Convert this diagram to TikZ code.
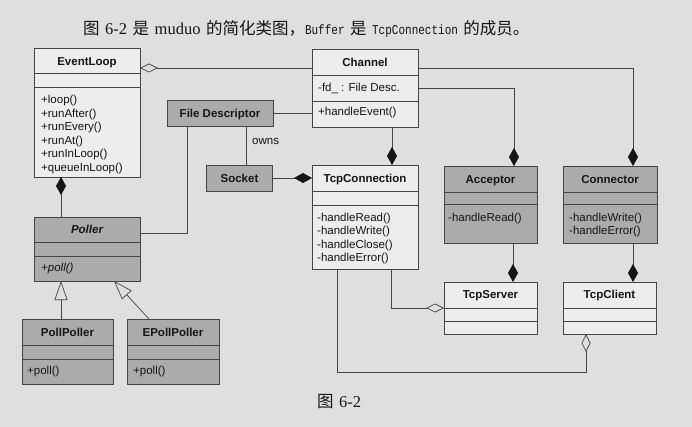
\documentclass[tikz,border=0pt]{standalone}
\usepackage{fontspec}
\setmainfont{Liberation Serif}
\setsansfont{Liberation Sans}
\setmonofont{Liberation Mono}
\newfontfamily\cjk{Noto Sans CJK SC}
\newfontfamily\codefont[FakeStretch=0.815]{Liberation Mono}
\newcommand\gap{\hspace{5.5pt}}
\usetikzlibrary{arrows.meta}
\definecolor{bg}{HTML}{DFDFDF}
\definecolor{boxw}{HTML}{EDEDED}
\definecolor{boxg}{HTML}{ABABAB}
\definecolor{ln}{HTML}{454545}
\definecolor{dk}{HTML}{151515}
\definecolor{txt}{HTML}{151515}
\tikzset{
  umlbox/.style={draw=ln, line width=0.7pt, inner sep=0pt, outer sep=0pt, anchor=north west},
  wbox/.style={fill=boxw},
  gbox/.style={fill=boxg},
  ttl/.style={font=\sffamily\bfseries\fontsize{11.5}{13.6}\selectfont, text=txt, inner sep=0pt, anchor=base},
  mth/.style={font=\sffamily\fontsize{11.5}{13.6}\selectfont, text=txt, inner sep=0pt, anchor=base west},
  conn/.style={draw=ln, line width=0.7pt},
  comp/.style={conn, -{Diamond[length=18pt,width=10pt,fill=dk,color=dk]}},
  aggr/.style={conn, -{Diamond[open,length=18pt,width=9pt]}},
  gen/.style={conn, -{Triangle[open,length=19pt,width=13pt]}},
  captext/.style={anchor=base west, inner sep=0pt, font=\fontsize{16.5}{18}\selectfont, text=txt},
}
\newcommand\cls[6]{%
  \pgfmathsetmacro\clsw{#5-#3}\pgfmathsetmacro\clsh{#6-#4}%
  \node[umlbox, #2, minimum width=\clsw pt, minimum height=\clsh pt] (#1) at (#3,#4) {};}
\newcommand\divs[3]{%
  \draw[conn] (#1.west |- 0,#2) -- (#1.east |- 0,#2);
  \draw[conn] (#1.west |- 0,#3) -- (#1.east |- 0,#3);}
\newcommand\code[1]{{\codefont\fontsize{13.5}{16}\selectfont #1}}
\begin{document}
\begin{tikzpicture}[x=1pt,y=-1pt]
\fill[bg] (0,0) rectangle (692,427);
\useasboundingbox (0,0) rectangle (692,427);

% captions
\node[captext] (cap) at (83,35)
  {{\cjk 图}\gap 6-2\gap{\cjk 是}\gap muduo\gap{\cjk 的简化类图，}\code{Buffer}\gap{\cjk 是}\gap\code{TcpConnection}\gap{\cjk 的成员。}};
\node[captext] (figcap) at (317,407.5) {{\cjk 图}\gap 6-2};

% classes
\cls{EventLoop}{wbox}{34}{48}{140}{177}
\divs{EventLoop}{73}{87}
\node[ttl] (EventLoopT) at (87,65.1) {EventLoop};
\foreach \t [count=\i] in {+loop(),+runAfter(),+runEvery(),+runAt(),+runInLoop(),+queueInLoop()}
  \node[mth] (EventLoopM\i) at (41,{103.5+(\i-1)*13.6}) {\t};

\cls{Channel}{wbox}{312}{49}{418}{127}
\divs{Channel}{75}{101}
\node[ttl] (ChannelT) at (365,66.1) {Channel};
\node[mth] (ChannelA) at (318,91.5) {-fd\_ : File Desc.};
\node[mth] (ChannelM) at (318,115.5) {+handleEvent()};

\cls{FileDescriptor}{gbox}{167}{100}{273}{126}
\node[ttl] (FileDescriptorT) at (220,117.1) {File Descriptor};

\cls{Socket}{gbox}{206}{165}{272}{191}
\node[ttl] (SocketT) at (239.5,182.1) {Socket};

\cls{TcpConnection}{wbox}{312}{165}{418}{269}
\divs{TcpConnection}{191}{205}
\node[ttl] (TcpConnectionT) at (365,182.1) {TcpConnection};
\foreach \t [count=\i] in {-handleRead(),-handleWrite(),-handleClose(),-handleError()}
  \node[mth] (TcpConnectionM\i) at (317,{221.5+(\i-1)*13.4}) {\t};

\cls{Acceptor}{gbox}{444}{166}{537}{243}
\divs{Acceptor}{192}{204}
\node[ttl] (AcceptorT) at (490.5,183.1) {Acceptor};
\node[mth] (AcceptorM) at (448,221.5) {-handleRead()};

\cls{Connector}{gbox}{563}{166}{657}{243}
\divs{Connector}{192}{204}
\node[ttl] (ConnectorT) at (610,183.1) {Connector};
\node[mth] (ConnectorM1) at (569,221.5) {-handleWrite()};
\node[mth] (ConnectorM2) at (569,235) {-handleError()};

\cls{TcpServer}{wbox}{444}{282}{537}{334}
\divs{TcpServer}{308}{321}
\node[ttl] (TcpServerT) at (490.5,298.1) {TcpServer};

\cls{TcpClient}{wbox}{563}{282}{656}{334}
\divs{TcpClient}{308}{321}
\node[ttl] (TcpClientT) at (609.5,298.1) {TcpClient};

\cls{Poller}{gbox}{34}{217}{140}{281}
\divs{Poller}{242}{256}
\node[ttl, font=\sffamily\bfseries\itshape\fontsize{11.5}{13.6}\selectfont] (PollerT) at (87,233.1) {Poller};
\node[mth, font=\sffamily\itshape\fontsize{11.5}{13.6}\selectfont] (PollerM) at (41,271.5) {+poll()};

\cls{PollPoller}{gbox}{22}{319}{113}{384}
\divs{PollPoller}{345}{359}
\node[ttl] (PollPollerT) at (67.5,336.1) {PollPoller};
\node[mth] (PollPollerM) at (27,374.5) {+poll()};

\cls{EPollPoller}{gbox}{127}{319}{219}{384}
\divs{EPollPoller}{345}{359}
\node[ttl] (EPollPollerT) at (173,336.1) {EPollPoller};
\node[mth] (EPollPollerM) at (133,374.5) {+poll()};

% connectors
\draw[aggr] (Channel.west |- 0,68) -- (EventLoop.east |- 0,68);
\draw[comp] (Channel.east |- 0,68) -| (Connector.north -| 633,0);
\draw[comp] (Channel.east |- 0,88) -| (Acceptor.north -| 514,0);
\draw[comp] (Channel.south -| 392,0) -- (TcpConnection.north -| 392,0);
\draw[conn] (FileDescriptor.east |- 0,113) -- (Channel.west |- 0,113);
\draw[conn] (FileDescriptor.south -| 187,0) |- (Poller.east |- 0,233);
\draw[conn] (FileDescriptor.south -| 246,0) -- (Socket.north -| 246,0);
\node[mth] (owns) at (252,144.5) {owns};
\draw[comp] (Socket.east |- 0,178) -- (TcpConnection.west |- 0,178);
\draw[comp] (Poller.north -| 61,0) -- (EventLoop.south -| 61,0);
\draw[gen] (PollPoller.north -| 61,0) -- (Poller.south -| 61,0);
\draw[gen] (EPollPoller.north -| 149,0) -- (Poller.south -| 114,0);
\draw[comp] (Acceptor.south -| 513,0) -- (TcpServer.north -| 513,0);
\draw[comp] (Connector.south -| 633,0) -- (TcpClient.north -| 633,0);
\draw[aggr] (TcpConnection.south -| 391,0) |- (TcpServer.west |- 0,308);
\coordinate (bendA) at (337,372);
\coordinate (bendB) at (586,372);
\draw[aggr] (TcpConnection.south -| 337,0) -- (bendA) -- (bendB) -- (TcpClient.south -| 586,0);
\end{tikzpicture}
\end{document}
